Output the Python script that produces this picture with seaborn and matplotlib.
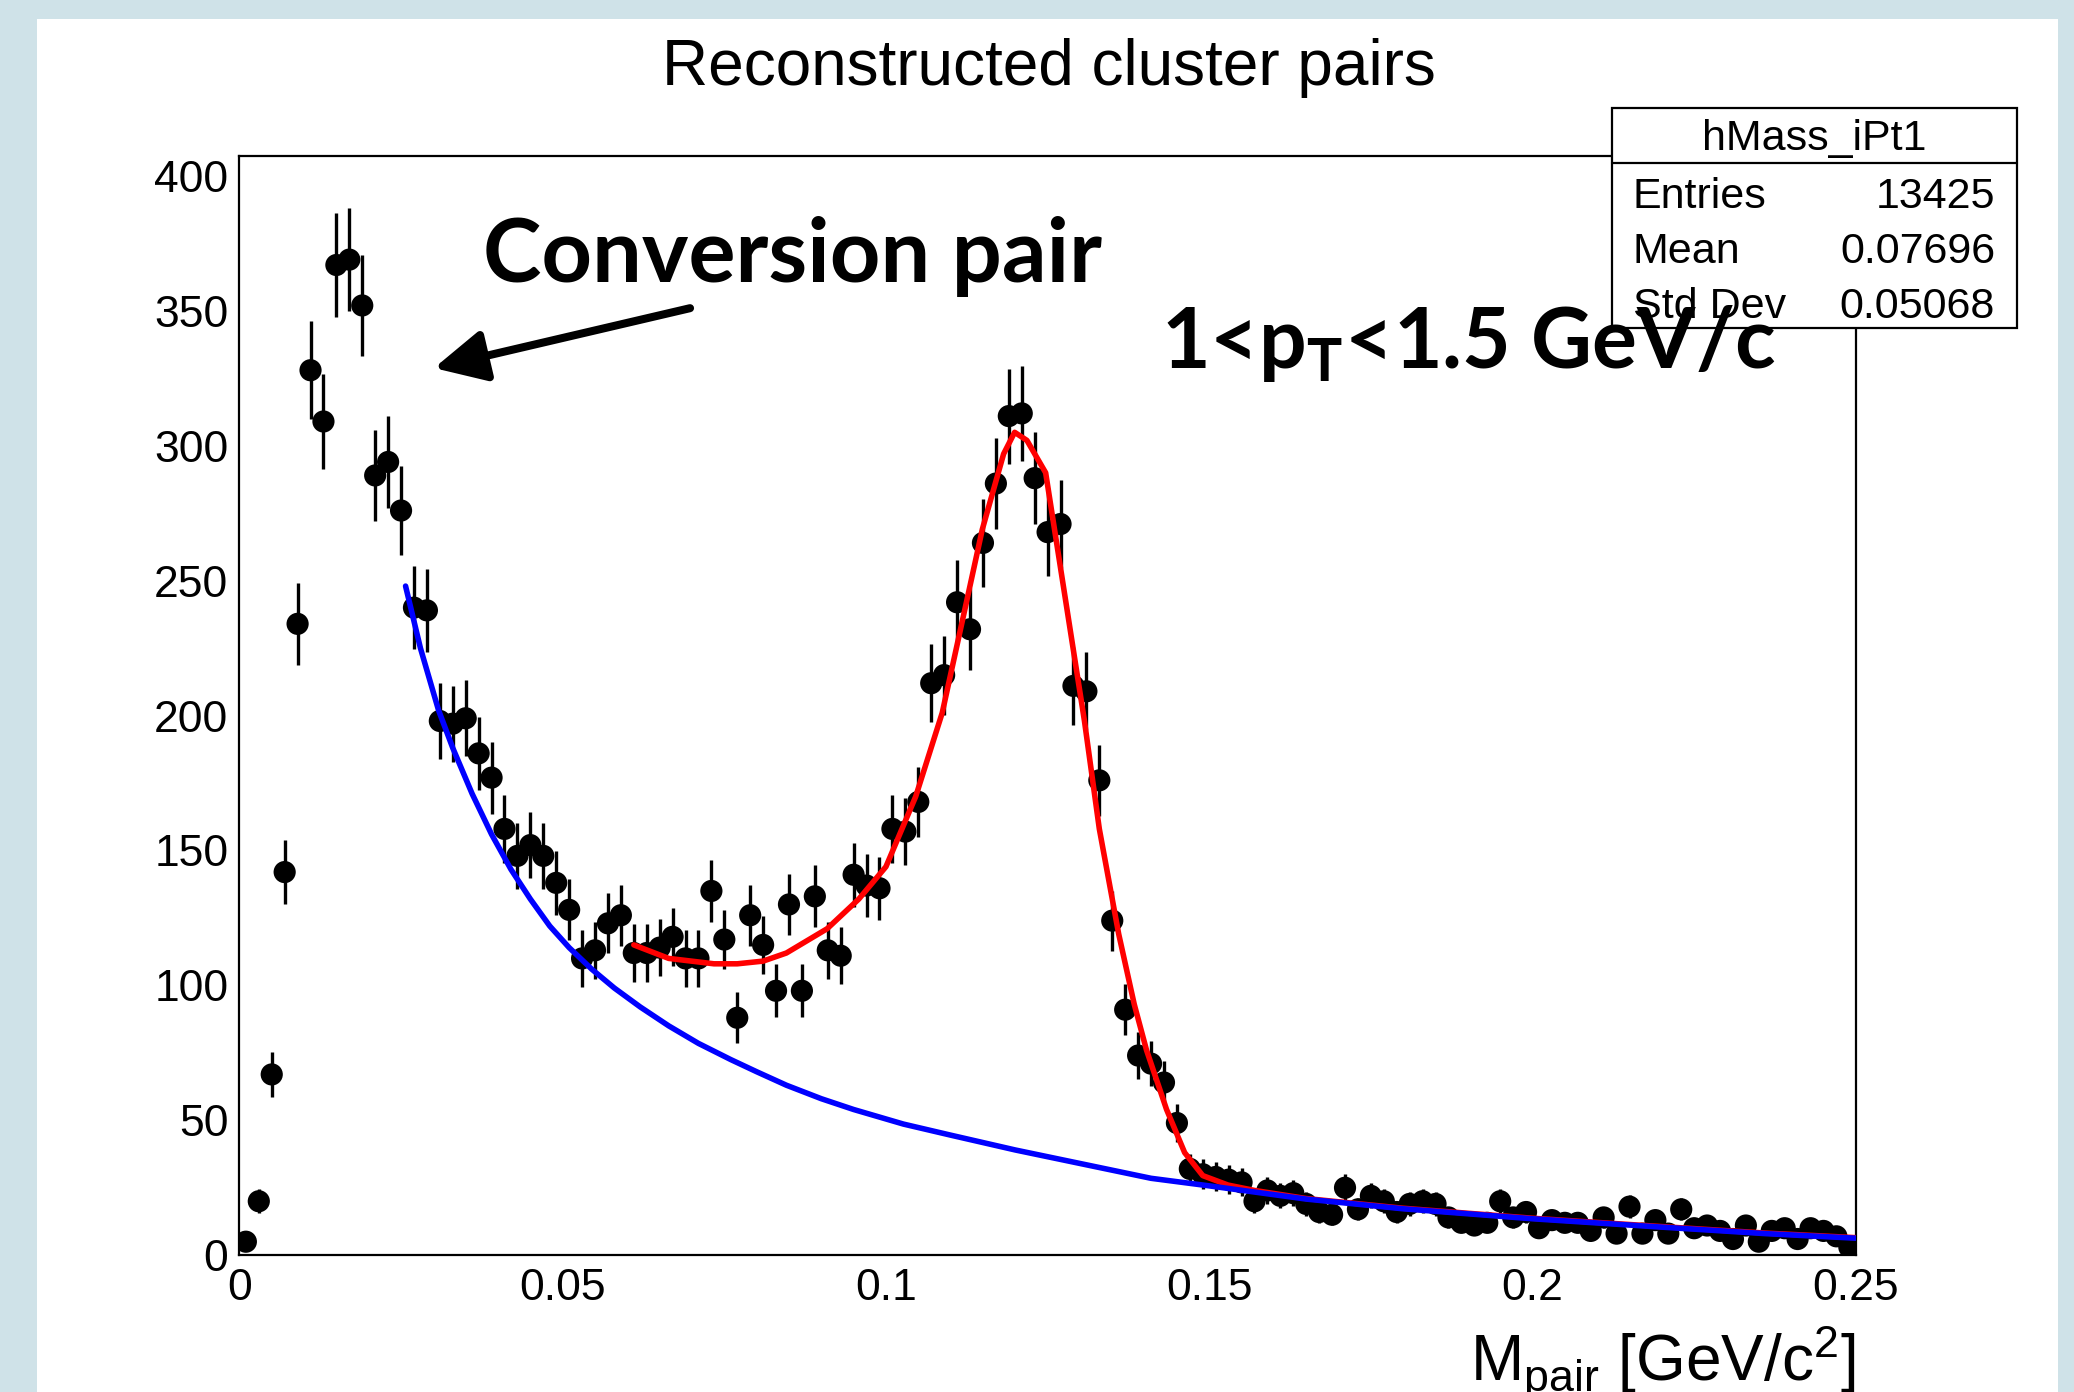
import numpy as np
import pandas as pd
import matplotlib
matplotlib.use("Agg")
import matplotlib.pyplot as plt
import seaborn as sns
from matplotlib.patches import Rectangle
from matplotlib.lines import Line2D
from matplotlib.ticker import MultipleLocator, FuncFormatter

# ---------------- data ----------------
bin_width = 0.002
mass = np.round(np.arange(0.001, 0.25, bin_width), 4)  # bin centres
counts = [5, 20, 67, 142, 234, 328, 309, 367, 369, 352,
          289, 294, 276, 240, 239, 198, 197, 199, 186, 177,
          158, 148, 152, 148, 138, 128, 110, 113, 123, 126,
          112, 112, 114, 118, 110, 110, 135, 117, 88, 126,
          115, 98, 130, 98, 133, 113, 111, 141, 137, 136,
          158, 157, 168, 212, 215, 242, 232, 264, 286, 311,
          312, 288, 268, 271, 211, 209, 176, 124, 91, 74,
          71, 64, 49, 32, 30, 29, 28, 27, 20, 24,
          22, 23, 19, 16, 15, 25, 17, 22, 20, 16,
          19, 20, 19, 14, 12, 11, 12, 20, 14, 16,
          10, 13, 12, 12, 9, 14, 8, 18, 8, 13,
          8, 17, 10, 11, 9, 6, 11, 5, 9, 10,
          6, 10, 9, 7, 3]
assert len(counts) == len(mass)

bg_x = [0.0257, 0.028, 0.0308, 0.033, 0.036, 0.039, 0.042, 0.045, 0.048, 0.051,
        0.0545, 0.058, 0.062, 0.0664, 0.071, 0.076, 0.080, 0.0846, 0.090, 0.095,
        0.1027, 0.110, 0.120, 0.133, 0.141, 0.150, 0.165, 0.180, 0.200, 0.220,
        0.236, 0.250]
bg_y = [248, 225, 202, 188, 171, 156, 143, 132, 122, 114,
        106, 99, 92, 85, 78.5, 72.5, 68, 63, 58, 54,
        48.6, 44.5, 39, 32.5, 28.5, 25.7, 20.8, 17.2, 13.5, 10.4,
        8, 6.3]

fit_x = [0.061, 0.0664, 0.0734, 0.077, 0.081, 0.0846, 0.0909, 0.0958, 0.100, 0.1046,
         0.1087, 0.1129, 0.1149, 0.1182, 0.1199, 0.1218, 0.1247, 0.1277, 0.1307, 0.133,
         0.136, 0.1384, 0.1403, 0.1434, 0.1462, 0.149, 0.1529, 0.157, 0.165, 0.180,
         0.200, 0.220, 0.236, 0.250]
fit_y = [115, 110, 108, 108, 109, 112, 121, 132, 144, 170,
         201, 247, 269, 297, 305, 302, 290, 244, 198, 158,
         119, 93, 76, 54, 38, 29.5, 26, 24, 21, 17.4,
         13.7, 10.6, 8.2, 6.5]

x_ticks = [0, 0.05, 0.1, 0.15, 0.2, 0.25]
y_ticks = [0, 50, 100, 150, 200, 250, 300, 350, 400]

title = "Reconstructed cluster pairs"
xlabel = r"M$_{\mathrm{pair}}$ [GeV/c$^{\mathrm{2}}$]"
stats_name = "hMass_iPt1"
stats_labels = ["Entries", "Mean", "Std Dev"]
stats_values = ["13425", "0.07696", "0.05068"]
note_conv = "Conversion pair"
note_pt = r"1<p$_{\mathbf{T}}$<1.5 GeV/c"

df = pd.DataFrame({"mass": mass, "counts": counts})
df["err"] = np.sqrt(df["counts"])

# ---------------- style ----------------
sns.set_style("white")
plt.rcParams["font.family"] = ["Liberation Sans", "DejaVu Sans"]
plt.rcParams["mathtext.fontset"] = "custom"
plt.rcParams["mathtext.rm"] = "Liberation Sans"
plt.rcParams["mathtext.it"] = "Liberation Sans:italic"
plt.rcParams["mathtext.bf"] = "Lato:bold"
plt.rcParams["text.color"] = "black"
plt.rcParams["axes.labelcolor"] = "black"
plt.rcParams["xtick.color"] = "black"
plt.rcParams["ytick.color"] = "black"

W, H = 2074, 1392
fig = plt.figure(figsize=(W / 100, H / 100), dpi=100, facecolor="#cfe2e8")
fig.add_artist(Rectangle((37 / W, 0), (2058 - 37) / W, (H - 19) / H,
                         transform=fig.transFigure, facecolor="white",
                         edgecolor="none", zorder=-10))

ax_l, ax_r, ax_t, ax_b = 239.4, 1855.8, 156.0, 1255.2
ax = fig.add_axes([ax_l / W, (H - ax_b) / H, (ax_r - ax_l) / W, (ax_b - ax_t) / H])
ax.set_facecolor("white")

ax.errorbar(df["mass"], df["counts"], yerr=df["err"], fmt="none",
            ecolor="black", elinewidth=2.4, capsize=0, zorder=3)
sns.scatterplot(data=df, x="mass", y="counts", ax=ax, color="black", s=255,
                edgecolor="none", zorder=4, legend=False)
sns.lineplot(x=fit_x, y=fit_y, ax=ax, color="#ff0000", lw=4, sort=False,
             estimator=None, zorder=5)
sns.lineplot(x=bg_x, y=bg_y, ax=ax, color="#0000ff", lw=4, sort=False,
             estimator=None, zorder=6)

ax.set_xlim(0, 0.25)
ax.set_ylim(0, 407.4)
ax.set_xticks(x_ticks)
ax.set_yticks(y_ticks)
ax.xaxis.set_minor_locator(MultipleLocator(0.01))
ax.yaxis.set_minor_locator(MultipleLocator(10))
ax.xaxis.set_major_formatter(FuncFormatter(lambda v, p: "%g" % round(v, 3)))
ax.yaxis.set_major_formatter(FuncFormatter(lambda v, p: "%g" % v))
ax.set_xlabel("")
ax.set_ylabel("")
ax.tick_params(which="both", direction="in", top=False, right=False,
               width=1.6, colors="black", labelsize=32)
ax.tick_params(axis="y", which="major", length=34, pad=8)
ax.tick_params(axis="y", which="minor", length=16.5)
ax.tick_params(axis="x", which="major", length=22, pad=9)
ax.tick_params(axis="x", which="minor", length=11.5)
for sp in ax.spines.values():
    sp.set_visible(True)
    sp.set_color("black")
    sp.set_linewidth(1.6)

# title and x label
fig.text(1049 / W, (H - 68) / H, title, ha="center", va="center", fontsize=46,
         color="black")
fig.text(ax_r / W, (H - 1382) / H, xlabel, ha="right", va="baseline", fontsize=46,
         color="black")

# annotation
ax.annotate("", xy=(0.0301, 328.8), xytext=(0.0697, 351),
            arrowprops=dict(arrowstyle="-|>", color="black", lw=5.8,
                            mutation_scale=78, shrinkA=0, shrinkB=0),
            zorder=7)
ax.text(0.0376, 360.7, note_conv, fontfamily="Lato", fontweight="bold",
        fontsize=63.5, ha="left", va="baseline", color="black", zorder=7)

# stats box
bx0, bx1, by0, by1 = 1612, 2017, 108, 328
fig.add_artist(Rectangle((bx0 / W, (H - by1) / H), (bx1 - bx0) / W, (by1 - by0) / H,
                         transform=fig.transFigure, facecolor="white",
                         edgecolor="black", lw=1.6, zorder=2))
fig.add_artist(Line2D([bx0 / W, bx1 / W], [(H - 163) / H, (H - 163) / H],
                      transform=fig.transFigure, color="black", lw=1.6, zorder=2.1))
fig.text((bx0 + bx1) / 2 / W, (H - 139) / H, stats_name, ha="center", va="center",
         fontsize=31, color="black", zorder=2.2)
for lab, val, yc in zip(stats_labels, stats_values, [197, 252, 307]):
    fig.text(1633 / W, (H - yc) / H, lab, ha="left", va="center", fontsize=31,
             color="black", zorder=2.2)
    fig.text(1995 / W, (H - yc) / H, val, ha="right", va="center", fontsize=31,
             color="black", zorder=2.2)

# pT note drawn above the stats box
fig.text(1161 / W, (H - 368) / H, note_pt, fontfamily="Lato", fontweight="bold",
         fontsize=60.5, ha="left", va="baseline", color="black", zorder=10)

fig.savefig("out.png", dpi=100, facecolor=fig.get_facecolor())
